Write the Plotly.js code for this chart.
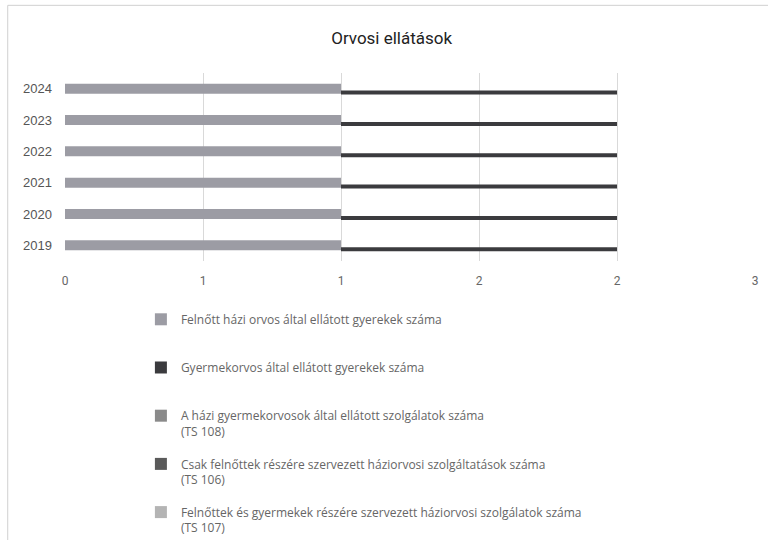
<!DOCTYPE html>
<html><head><meta charset="utf-8">
<script src="https://cdn.plot.ly/plotly-3.0.1.min.js"></script>
<style>html,body{margin:0;padding:0;background:#fff}#chart{width:768px;height:540px}</style>
</head><body><div id="chart"></div>
<script>
const years = ['2019','2020','2021','2022','2023','2024'];
const seriesNames = [
  'Felnőtt házi orvos által ellátott gyerekek száma',
  'Gyermekorvos által ellátott gyerekek száma',
  'A házi gyermekorvosok által ellátott szolgálatok száma<br>(TS 108)',
  'Csak felnőttek részére szervezett háziorvosi szolgáltatások száma<br>(TS 106)',
  'Felnőttek és gyermekek részére szervezett háziorvosi szolgálatok száma<br>(TS 107)'
];
const felnottHaziOrvos = [1,1,1,1,1,1];
const gyermekorvos = [1,1,1,1,1,1];
const ts108 = [0,0,0,0,0,0];
const ts106 = [0,0,0,0,0,0];
const ts107 = [0,0,0,0,0,0];
const tickVals = [0,0.5,1,1.5,2,2.5];
const tickText = ['0','1','1','2','2','3'];

const colors = ['#9c9ca4','#3b3b3e','#8a8a8a','#5a5a5a','#b4b4b4'];
const legendText = s => s.indexOf('<br>')<0 ? s + '<br> ' : s;

const traces = [
  {type:'bar', orientation:'h', y:years, x:felnottHaziOrvos, name:legendText(seriesNames[0]),
   width:0.32, offset:-0.16, marker:{color:colors[0]}, legendgroup:'a'},
  {type:'bar', orientation:'h', y:years, x:gyermekorvos, base:felnottHaziOrvos, name:legendText(seriesNames[1]),
   width:0.13, offset:-0.19, marker:{color:colors[1]}, legendgroup:'b'},
  {type:'bar', orientation:'h', y:years, x:ts108, name:legendText(seriesNames[2]),
   width:0.13, offset:-0.19, marker:{color:colors[2]}, legendgroup:'c'},
  {type:'bar', orientation:'h', y:years, x:ts106, name:legendText(seriesNames[3]),
   width:0.13, offset:-0.19, marker:{color:colors[3]}, legendgroup:'d'},
  {type:'bar', orientation:'h', y:years, x:ts107, name:legendText(seriesNames[4]),
   width:0.13, offset:-0.19, marker:{color:colors[4]}, legendgroup:'e'}
];

const layout = {
  width:768, height:540,
  margin:{l:65, r:13, t:73, b:279, autoexpand:false},
  paper_bgcolor:'#fff', plot_bgcolor:'#fff',
  barmode:'overlay',
  font:{family:'Roboto, "Noto Sans", sans-serif', color:'#555'},
  title:{text:'Orvosi ellátások', x:0.51, xanchor:'center', y:0.93, yanchor:'middle',
         font:{size:17, color:'#222', family:'Roboto, "Noto Sans", sans-serif'}},
  xaxis:{range:[0,2.5], tickvals:tickVals, ticktext:tickText, showgrid:true,
         gridcolor:'#d9d9d9', gridwidth:1, zeroline:false, showline:false,
         tickfont:{size:12, color:'#666'}, ticks:'', ticklabelstandoff:11, fixedrange:true},
  yaxis:{type:'category', categoryorder:'array', categoryarray:years, showgrid:false,
         zeroline:false, showline:false, ticks:'', ticklabelstandoff:12,
         tickfont:{size:13, color:'#555', family:'"Liberation Sans", Arial, sans-serif'}, fixedrange:true},
  showlegend:true,
  legend:{orientation:'v', x:0.11, xanchor:'left', y:-0.234, yanchor:'top',
          traceorder:'grouped', tracegroupgap:14, valign:'top',
          font:{size:12, color:'#666', family:'"Open Sans", "Noto Sans", sans-serif'},
          bgcolor:'rgba(0,0,0,0)'},
  shapes:[
    {type:'rect', xref:'paper', yref:'paper', x0:-0.083, x1:1.02, y0:-1.6, y1:1.36,
     line:{color:'#d0d0d0', width:1}, fillcolor:'rgba(0,0,0,0)'}
  ]
};

Plotly.newPlot('chart', traces, layout, {displayModeBar:false, staticPlot:true});
</script></body></html>
